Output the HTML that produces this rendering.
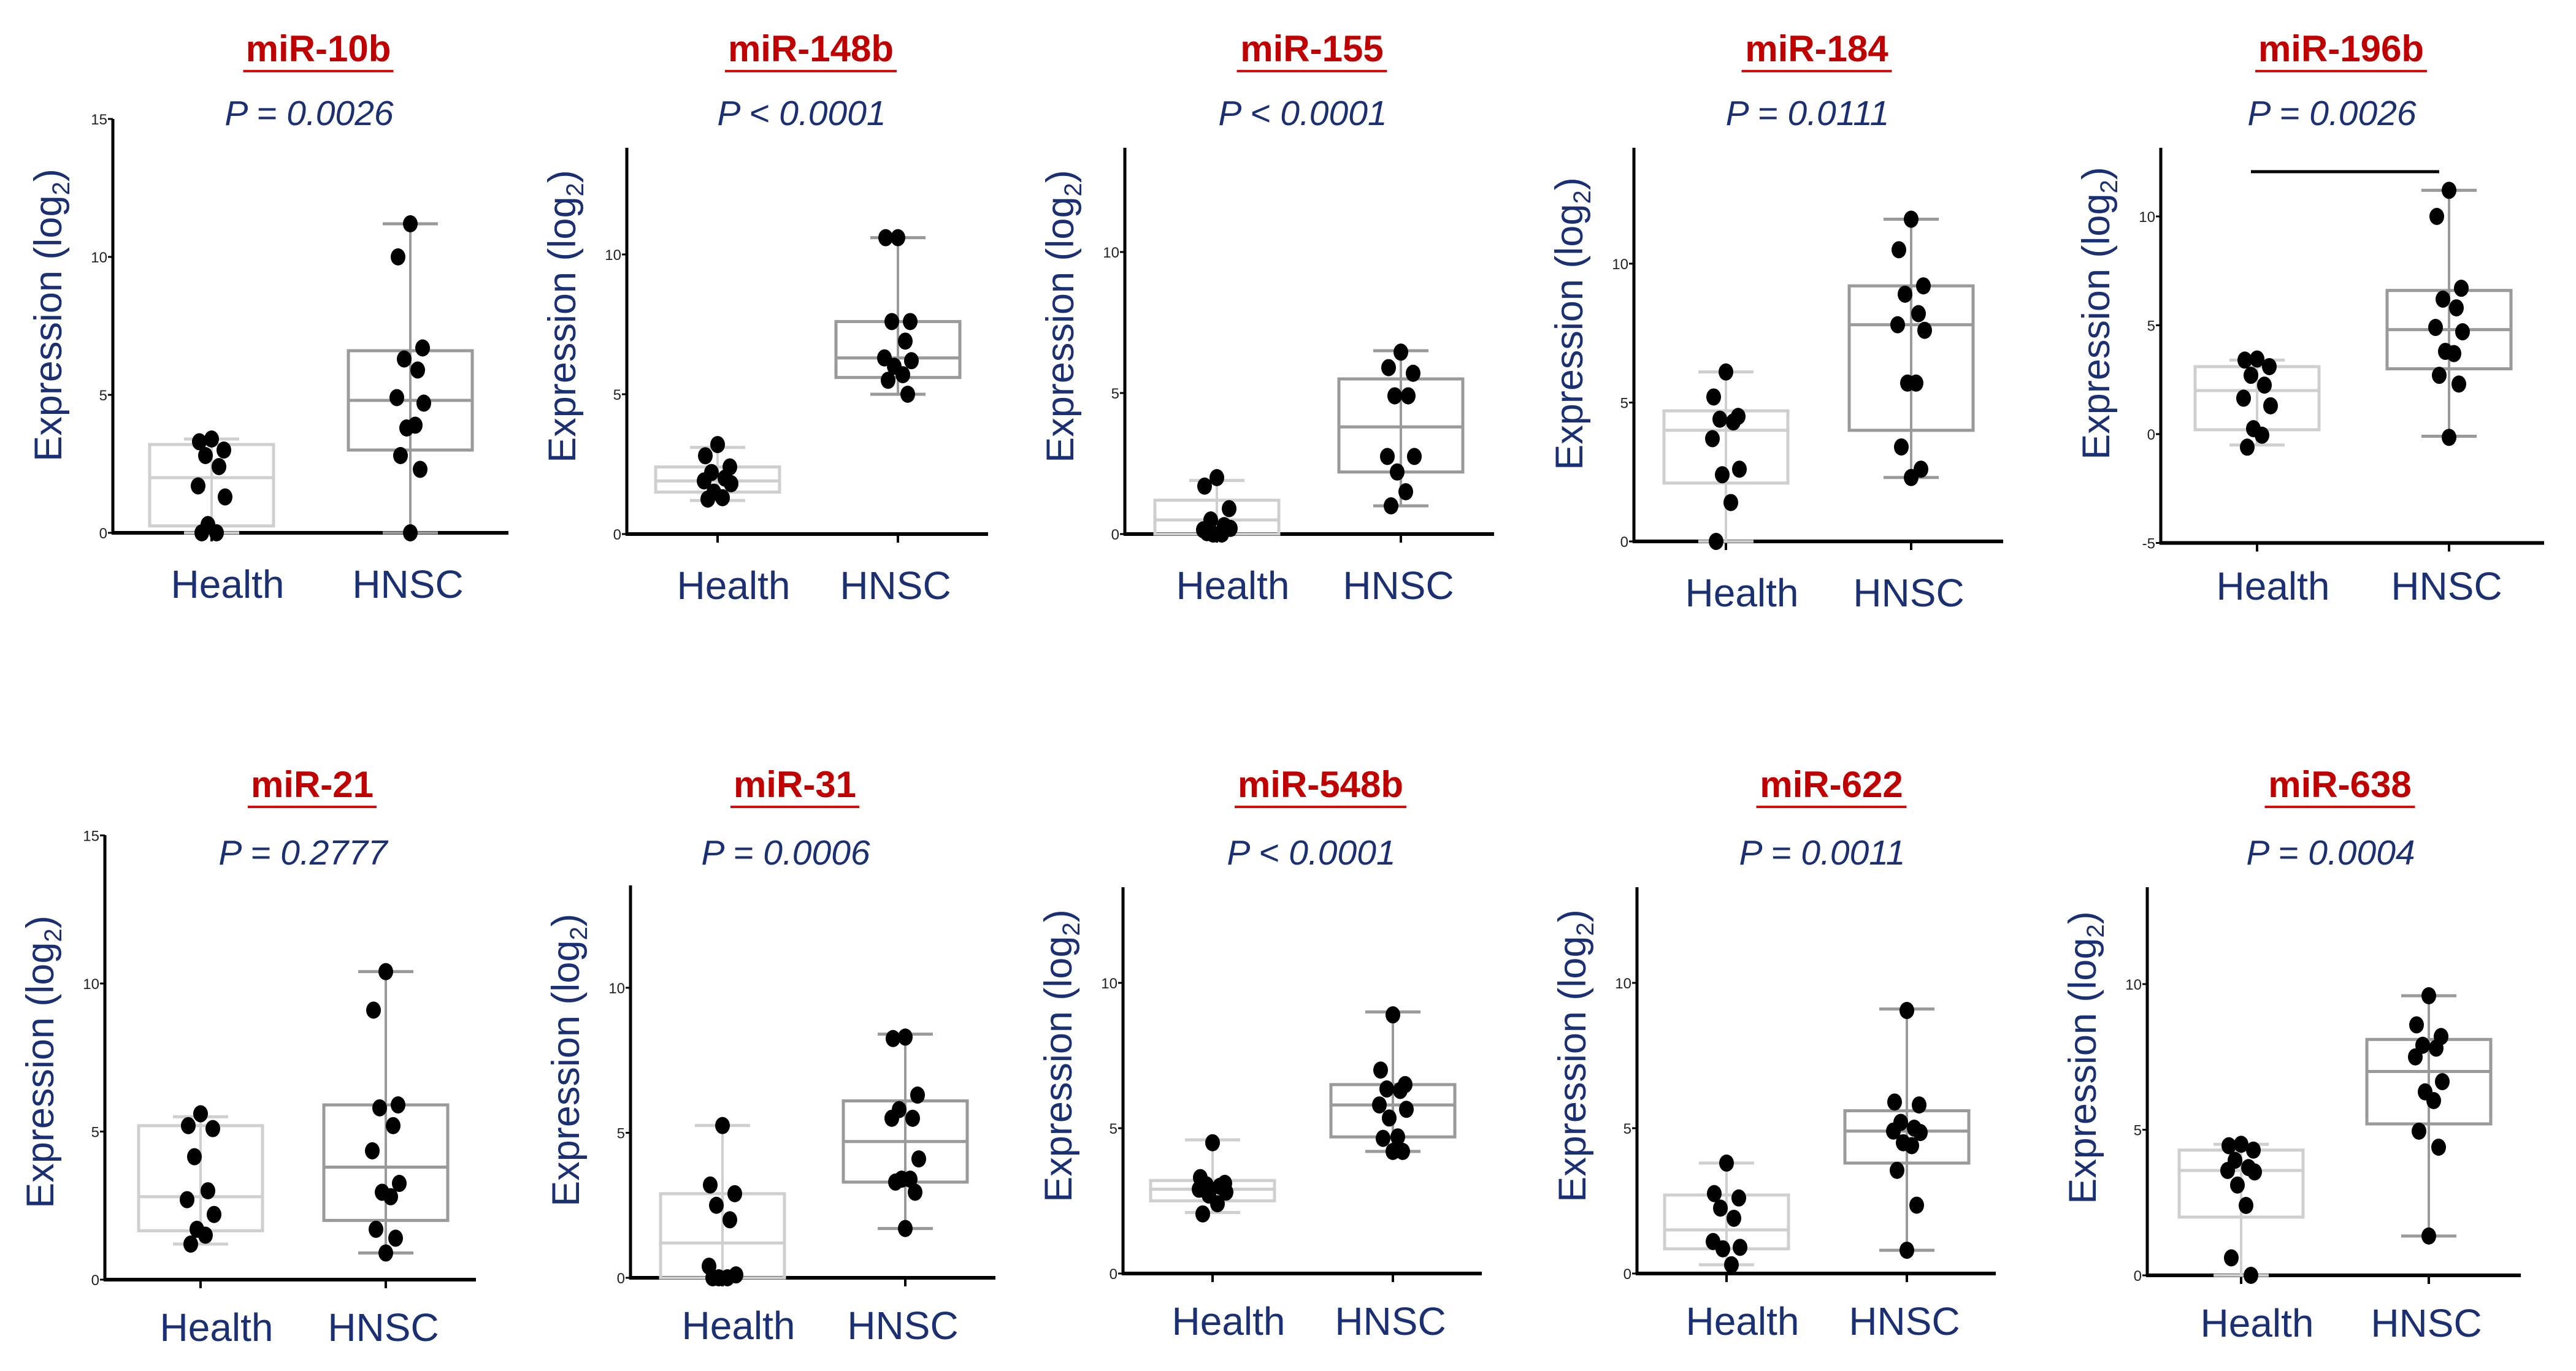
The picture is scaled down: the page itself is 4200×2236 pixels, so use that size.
<!DOCTYPE html>
<html><head><meta charset="utf-8"><style>
html,body{margin:0;padding:0;background:#fff;}
svg{display:block;}
text{font-family:"Liberation Sans",sans-serif;}
</style></head><body>
<svg id="fig" xmlns="http://www.w3.org/2000/svg" width="4200" height="2236" viewBox="0 0 4200 2236"></svg>
<script>
// ---- data ----
const titles = ["miR-10b","miR-148b","miR-155","miR-184","miR-196b","miR-21","miR-31","miR-548b","miR-622","miR-638"];
const pValues = ["P = 0.0026","P < 0.0001","P < 0.0001","P = 0.0111","P = 0.0026","P = 0.2777","P = 0.0006","P < 0.0001","P = 0.0011","P = 0.0004"];
const categories = ["Health","HNSC"];
const yTicks10b = [0,5,10,15];
const yTicksStd = [0,5,10];
const yTicks196b = [-5,0,5,10];
const yTicks21 = [0,5,10,15];
// health dots
const health10b = [3.4,3.3,3.0,2.8,2.4,1.7,1.3,0.3,0,0];
const health148b = [3.2,2.8,2.4,2.2,2.0,1.9,1.8,1.5,1.3,1.25];
const health155 = [2.0,1.7,0.9,0.5,0.3,0.15,0.2,0,0,0.05];
const health184 = [6.1,5.2,4.5,4.4,4.3,3.7,2.6,2.4,1.4,0];
const health196b = [3.45,3.4,3.1,2.7,2.25,1.65,1.3,0.25,-0.05,-0.6];
const health21 = [5.6,5.2,5.1,4.15,3.0,2.7,2.2,1.7,1.5,1.2];
const health31 = [5.25,3.2,2.9,2.5,2.0,0.4,0.1,0,0,0];
const health548b = [4.5,3.3,3.1,3.05,3.0,2.9,2.8,2.7,2.4,2.05];
const health622 = [3.8,2.75,2.6,2.25,1.9,1.1,0.9,0.85,0.3];
const health638 = [4.5,4.45,4.3,3.95,3.7,3.6,3.55,3.1,2.4,0.6,0];
// HNSC dots
const hnsc10b = [11.2,10.0,6.7,6.3,5.9,4.9,4.7,3.8,3.9,2.8,2.3,0];
const hnsc148b = [10.6,10.6,7.6,7.6,6.9,6.3,6.2,6.0,5.7,5.5,5.0];
const hnsc155 = [6.45,5.9,5.7,4.9,4.9,2.75,2.75,2.2,1.5,1.0];
const hnsc184 = [11.6,10.5,9.2,8.9,8.2,7.8,7.6,5.7,5.7,3.4,2.6,2.3];
const hnsc196b = [11.2,10.0,6.7,6.2,5.8,4.9,4.7,3.8,3.7,2.7,2.3,-0.15];
const hnsc21 = [10.4,9.1,5.9,5.8,5.2,4.35,3.25,2.95,2.8,1.7,1.4,0.9];
const hnsc31 = [8.3,8.25,6.3,5.8,5.5,5.5,4.1,3.4,3.4,3.3,2.95,1.7];
const hnsc548b = [8.9,7.0,6.5,6.35,6.3,5.8,5.65,5.35,4.7,4.65,4.2,4.2];
const hnsc622 = [9.05,5.9,5.8,5.2,5.0,4.9,4.85,4.5,4.4,3.55,2.35,0.8];
const hnsc638 = [9.6,8.6,8.2,7.9,7.8,7.5,6.65,6.3,6.0,4.95,4.4,1.35];
// box stats: [whiskerLow, q1, median, q3, whiskerHigh]
const healthBox10b = [0,0.25,2.0,3.2,3.4];
const healthBox148b = [1.2,1.5,1.9,2.4,3.1];
const healthBox155 = [0,0,0.5,1.2,1.9];
const healthBox184 = [0,2.1,4.0,4.7,6.1];
const healthBox196b = [-0.5,0.2,2.0,3.1,3.4];
const healthBox21 = [1.2,1.65,2.8,5.2,5.5];
const healthBox31 = [0,0,1.2,2.9,5.25];
const healthBox548b = [2.1,2.5,2.9,3.2,4.6];
const healthBox622 = [0.3,0.85,1.5,2.7,3.8];
const healthBox638 = [0,2.0,3.6,4.3,4.5];
const hnscBox10b = [0,3.0,4.8,6.6,11.2];
const hnscBox148b = [5.0,5.6,6.3,7.6,10.6];
const hnscBox155 = [1.0,2.2,3.8,5.5,6.5];
const hnscBox184 = [2.3,4.0,7.8,9.2,11.6];
const hnscBox196b = [-0.1,3.0,4.8,6.6,11.2];
const hnscBox21 = [0.9,2.0,3.8,5.9,10.4];
const hnscBox31 = [1.7,3.3,4.7,6.1,8.4];
const hnscBox548b = [4.2,4.7,5.8,6.5,9.0];
const hnscBox622 = [0.8,3.8,4.9,5.6,9.1];
const hnscBox638 = [1.35,5.2,7.0,8.1,9.6];

const healthSets=[health10b,health148b,health155,health184,health196b,health21,health31,health548b,health622,health638];
const hnscSets=[hnsc10b,hnsc148b,hnsc155,hnsc184,hnsc196b,hnsc21,hnsc31,hnsc548b,hnsc622,hnsc638];
const healthBoxes=[healthBox10b,healthBox148b,healthBox155,healthBox184,healthBox196b,healthBox21,healthBox31,healthBox548b,healthBox622,healthBox638];
const hnscBoxes=[hnscBox10b,hnscBox148b,hnscBox155,hnscBox184,hnscBox196b,hnscBox21,hnscBox31,hnscBox548b,hnscBox622,hnscBox638];
const tickSets=[yTicks10b,yTicksStd,yTicksStd,yTicksStd,yTicks196b,yTicks21,yTicksStd,yTicksStd,yTicksStd,yTicksStd];

// ---- layout (pixels) ----
const layout=[
 {ax:184,top:194,y0:869,unit:45,end:829,hx:345,nx:669,tx:519,row:0},
 {ax:1022,top:241,y0:871,unit:45.6,end:1611,hx:1170,nx:1464,tx:1322,row:0},
 {ax:1834,top:241,y0:871,unit:46,end:2436,hx:1984,nx:2284,tx:2139,row:0},
 {ax:2664,top:241,y0:883,unit:45.3,end:3266,hx:2814,nx:3116,tx:2962,row:0},
 {ax:3523,top:241,y0:708,unit:35.5,ymin:-5,end:4148,hx:3680,nx:3993,tx:3817,row:0,sig:true,ylc:511,labY:978},
 {ax:171,top:1362,y0:2087,unit:48.3,end:776,hx:327,nx:629,tx:509,row:1},
 {ax:1028,top:1444,y0:2084,unit:47.3,end:1623,hx:1178,nx:1476,tx:1296,row:1},
 {ax:1831,top:1447,y0:2077,unit:47.4,end:2416,hx:1977,nx:2271,tx:2153,row:1},
 {ax:2669,top:1447,y0:2077,unit:47.4,end:3254,hx:2815,nx:3109,tx:2986,row:1},
 {ax:3501,top:1447,y0:2080,unit:47.5,end:4110,hx:3654,nx:3960,tx:3815,row:1}
];
const NS="http://www.w3.org/2000/svg";
const fig=document.getElementById('fig');
function mk(tag,attrs,parent,txt){const e=document.createElementNS(NS,tag);for(const k in attrs)e.setAttribute(k,attrs[k]);if(txt!==undefined)e.textContent=txt;parent.appendChild(e);return e;}
const jit=[0,-20,20,-10,12,-22,22,-6,8,-16,16,0];
const BLUE="#1b2f73";
layout.forEach((L,i)=>{
  const g=mk('g',{},fig);
  
  
  const ymin=L.ymin||0;
  const Y=v=>L.y0-v*L.unit;
  const tY=L.row?1300:100, pY=L.row?1410:204;
  const title=mk('text',{x:L.tx,y:tY,'text-anchor':'middle','font-size':60,'font-weight':'bold',fill:'#c00000'},g,titles[i]);
  
  
  const tw=titles[i].length*35;
  const ul=mk('line',{x1:L.tx-tw/2,x2:L.tx+tw/2,y1:tY+16,y2:tY+16,stroke:'#d01010','stroke-width':4},g);
  
  
  const p=mk('text',{x:L.tx-15,y:pY,'text-anchor':'middle','font-size':57,'font-style':'italic',fill:BLUE},g,pValues[i]);
  
  
  const yTop=L.top, yBot=Y(ymin);
  const ya=mk('line',{x1:L.ax,x2:L.ax,y1:yTop,y2:yBot+2,stroke:'#000','stroke-width':5},g);
  
  
  const xa=mk('line',{x1:L.ax-2,x2:L.end,y1:yBot,y2:yBot,stroke:'#000','stroke-width':6},g);
  
  
  tickSets[i].forEach(t=>{
    const tk=mk('line',{x1:L.ax-8,x2:L.ax,y1:Y(t),y2:Y(t),stroke:'#000','stroke-width':3},g);
    
    
    const tl=mk('text',{x:L.ax-9,y:Y(t)+9,'text-anchor':'end','font-size':24,fill:'#222'},g,String(t));
    
    
  });
  const ylc=L.ylc||(L.y0-355);
  const yl=mk('text',{x:0,y:0,'text-anchor':'middle','font-size':63,fill:BLUE,transform:`translate(${L.ax-84},${ylc}) rotate(-90)`},g);
  
  
  yl.appendChild(document.createTextNode('Expression (log'));
  mk('tspan',{'font-size':40,dy:13},yl,'2');
  mk('tspan',{dy:-13},yl,')');
  if(L.sig){
    const s=mk('line',{x1:L.hx-10,x2:L.nx-16,y1:280,y2:280,stroke:'#000','stroke-width':5},g);
    
    
  }
  [[L.hx,healthBoxes[i],healthSets[i],'#cfcfcf','health'],[L.nx,hnscBoxes[i],hnscSets[i],'#9a9a9a','hnsc']].forEach(([cx,bx,pts,col,nm],ci)=>{
    const xt=mk('line',{x1:cx,x2:cx,y1:yBot,y2:yBot+14,stroke:'#000','stroke-width':4},g);
    
    
    const ly=L.labY||(yBot+(L.row?100:106));
    const lab=mk('text',{x:cx+(ci?-4:26),y:ly,'text-anchor':'middle','font-size':64,fill:BLUE},g,categories[ci]);
    
    
    const w=mk('line',{x1:cx,x2:cx,y1:Y(bx[0]),y2:Y(bx[4]),stroke:col,'stroke-width':4},g);
    
    
    [bx[0],bx[4]].forEach(v=>{
      const c=mk('line',{x1:cx-45,x2:cx+45,y1:Y(v),y2:Y(v),stroke:col,'stroke-width':5},g);
      
      
    });
    const r=mk('rect',{x:cx-101,y:Y(bx[3]),width:202,height:Math.max(1,Y(bx[1])-Y(bx[3])),fill:'none',stroke:col,'stroke-width':5},g);
    
    
    const m=mk('line',{x1:cx-101,x2:cx+101,y1:Y(bx[2]),y2:Y(bx[2]),stroke:col,'stroke-width':5},g);
    
    
    pts.forEach((v,k)=>{
      const d=mk('ellipse',{cx:cx+jit[k%jit.length],cy:Y(v),rx:12,ry:14,fill:'#000'},g);
      
      
    });
  });
});
</script>
</body></html>
